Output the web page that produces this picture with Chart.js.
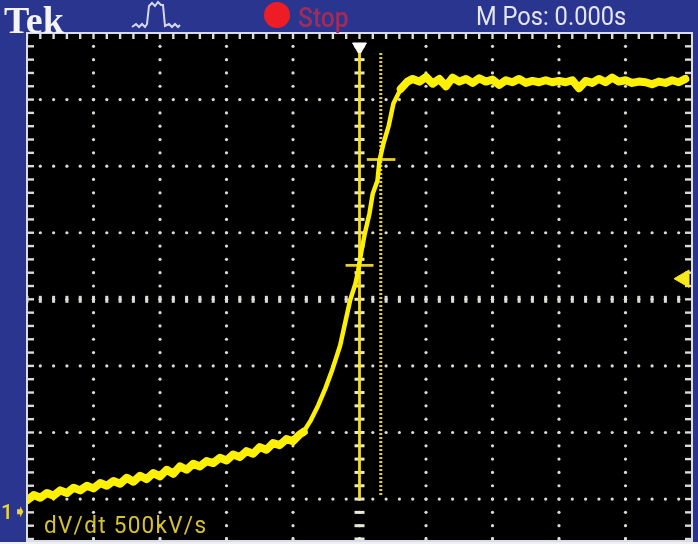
<!DOCTYPE html>
<html>
<head>
<meta charset="utf-8">
<title>Tek scope capture</title>
<script src="https://cdn.jsdelivr.net/npm/chart.js@4"></script>
<style>
	html, body { margin: 0; padding: 0; background: #2a358f; overflow: hidden; }
	#screen { position: relative; width: 698px; height: 544px; overflow: hidden; }
	#scope { position: absolute; left: 0; top: 0; filter: blur(0.5px); }
	.label { position: absolute; white-space: nowrap; line-height: 1; }
	#tek { left: 4px; top: -2px; font: bold 38px "Liberation Serif", serif; color: #f4f4f4; }
	#stop { left: 298px; top: 1px; font: 500 28px Roboto, sans-serif; color: #a02c5a; transform-origin: left top; transform: scaleX(0.88); }
	#stop-dot { position: absolute; left: 264px; top: 2px; width: 26px; height: 26px; border-radius: 50%; background: #ee1c25; }
	#mpos { left: 476px; top: 1px; font: 26px Roboto, sans-serif; color: #e4e6f4; transform-origin: left top; transform: scaleX(0.91); }
	#one { left: 1px; top: 500px; font: 500 21px Roboto, sans-serif; color: #ecd53a; }
	#info { left: 44px; top: 512px; font: 23px Roboto, sans-serif; color: #d6c22c; letter-spacing: 1.3px; transform-origin: left top; transform: scaleX(0.98); }
	#pulse { position: absolute; left: 130px; top: 0; }
</style>
</head>
<body>
<div id="screen">
	<canvas id="scope" width="698" height="544"></canvas>
	<div class="label" id="tek">Tek</div>
	<svg id="pulse" width="52" height="32">
		<polyline points="2,27 6,24 9,27 12,24 15,27 17,24 19,6 22,3 25,6 28,2 31,5 33,5 35,26 39,24 42,27 45,24 48,27 50,25" fill="none" stroke="#d5d8f0" stroke-width="2"/>
	</svg>
	<div id="stop-dot"></div>
	<div class="label" id="stop">Stop</div>
	<div class="label" id="mpos">M Pos: 0.000s</div>
	<div class="label" id="one">1<span style="font-size:17px;vertical-align:2px">➧</span></div>
	<div class="label" id="info">dV/dt 500kV/s</div>
</div>

<script>
// Everything is in scope divisions, 0,0 is the screen centre

const traceX = [
	-5.0, -4.9, -4.8, -4.7, -4.6, -4.5, -4.4, -4.3, -4.2, -4.1, -4.0, -3.9, -3.8, -3.7,
	-3.6, -3.5, -3.4, -3.3, -3.2, -3.1, -3.0, -2.9, -2.8, -2.7, -2.6, -2.5, -2.4, -2.3,
	-2.2, -2.1, -2.0, -1.9, -1.8, -1.7, -1.6, -1.5, -1.4, -1.3, -1.2, -1.1, -1.0, -0.9,
	-0.84, -0.74, -0.62, -0.51, -0.41, -0.29, -0.18, -0.14, -0.06, -0.02, 0.03, 0.08,
	0.15, 0.20, 0.27, 0.30, 0.36, 0.44, 0.51, 0.62, 0.72,
	0.8, 0.9, 1.0, 1.1, 1.2, 1.3, 1.4, 1.5, 1.6, 1.7, 1.8, 1.9, 2.0, 2.1, 2.2, 2.3, 2.4,
	2.5, 2.6, 2.7, 2.8, 2.9, 3.0, 3.1, 3.2, 3.3, 3.4, 3.5, 3.6, 3.7, 3.8, 3.9, 4.0, 4.1,
	4.2, 4.3, 4.4, 4.5, 4.6, 4.7, 4.8, 4.9, 4.98
];
const traceY = [
	-3.02, -2.94, -2.98, -2.91, -2.95, -2.87, -2.91, -2.83, -2.87, -2.80, -2.84, -2.76, -2.80, -2.73,
	-2.77, -2.68, -2.74, -2.65, -2.70, -2.61, -2.66, -2.56, -2.62, -2.51, -2.56, -2.47, -2.51, -2.43,
	-2.46, -2.38, -2.42, -2.33, -2.37, -2.28, -2.32, -2.22, -2.26, -2.16, -2.19, -2.10, -2.13, -2.03,
	-1.99, -1.83, -1.59, -1.33, -1.06, -0.69, -0.19, -0.01, 0.24, 0.43, 0.73, 0.99,
	1.29, 1.59, 1.78, 2.08, 2.34, 2.61, 2.94, 3.16, 3.27,
	3.31, 3.27, 3.34, 3.24, 3.31, 3.20, 3.33, 3.27, 3.31, 3.25, 3.32, 3.27, 3.30, 3.22, 3.29, 3.26,
	3.31, 3.25, 3.28, 3.26, 3.29, 3.26, 3.28, 3.26, 3.29, 3.17, 3.28, 3.25, 3.31, 3.26, 3.33, 3.27,
	3.29, 3.25, 3.27, 3.26, 3.23, 3.27, 3.25, 3.29, 3.26, 3.31
];

const gridX = [-4, -3, -2, -1, 0, 1, 2, 3, 4];
const gridY = [3, 2, 1, 0, -1, -2, -3];
const edgeX = [-5, -4, -3, -2, -1, 0, 1, 2, 3, 4];
const edgeY = [3, 2, 1, 0, -1, -2, -3, -4];
const minorSteps = [0, 0.2, 0.4, 0.6, 0.8];

const scaleMinX = -5, scaleMaxX = 5;
const scaleMinY = -3.63, scaleMaxY = 4;

const cursorSolidX = [0, 0];
const cursorDottedX = [0.32, 0.32];
const cursorSpanY = [3.7, -3.0];
const cursorDottedSpanY = [3.7, -2.97];
const lowTickX = [-0.21, 0.21];
const lowTickY = [0.51, 0.51];
const highTickX = [0.11, 0.54];
const highTickY = [2.1, 2.1];

const YELLOW = '#fdf000';
const DOT = '#dcdcd4';

// Dots along the division lines, 5 per division
const minorX = edgeX.flatMap(x => minorSteps.map(s => x + s));
const minorY = edgeY.flatMap(y => minorSteps.map(s => y + s)).filter(y => y <= scaleMaxY);

function points(xs, ys) {
	return xs.flatMap(x => ys.map(y => ({ x: x, y: y })));
}

function pairs(xs, ys) {
	return xs.map((x, i) => ({ x: x, y: ys[i] }));
}

function marks(data, style, radius, rotation, width, color) {
	return {
		data: data,
		showLine: false,
		pointStyle: style,
		pointRadius: radius,
		pointRotation: rotation,
		borderWidth: width,
		borderColor: color,
		backgroundColor: color,
		pointHoverRadius: radius
	};
}

const screenBack = {
	id: 'screenBack',
	beforeDatasetsDraw(chart) {
		const { ctx, chartArea: a } = chart;
		ctx.save();
		ctx.fillStyle = '#000';
		ctx.fillRect(a.left, a.top, a.width, a.height);
		ctx.restore();
	},
	afterDatasetsDraw(chart) {
		const { ctx, chartArea: a } = chart;
		ctx.save();
		ctx.strokeStyle = '#d9dbee';
		ctx.lineWidth = 2;
		ctx.strokeRect(a.left, a.top, a.width, a.height);
		ctx.fillStyle = '#f0f0ec';
		ctx.fillRect(0, a.bottom + 1, chart.width, chart.height - a.bottom);
		ctx.restore();
	}
};

new Chart(document.getElementById('scope'), {
	type: 'scatter',
	data: {
		datasets: [
			// trace on top, thinner where it rises fast
			{
				data: pairs(traceX, traceY),
				showLine: true,
				borderColor: YELLOW,
				borderWidth: 8,
				borderJoinStyle: 'round',
				borderCapStyle: 'round',
				pointRadius: 0,
				tension: 0,
				segment: {
					borderWidth: c => (c.p0.parsed.x > -0.85 && c.p0.parsed.x < 0.6 ? 4.5 : 8)
				}
			},
			{ data: pairs(cursorSolidX, cursorSpanY), showLine: true, borderColor: '#f2dc22', borderWidth: 2.8, pointRadius: 0 },
			{ data: pairs(cursorDottedX, cursorDottedSpanY), showLine: true, borderColor: '#e6d21e', borderWidth: 3, borderDash: [2, 2], pointRadius: 0 },
			{ data: pairs(lowTickX, lowTickY), showLine: true, borderColor: '#e8cf2a', borderWidth: 2.8, pointRadius: 0 },
			{ data: pairs(highTickX, highTickY), showLine: true, borderColor: '#e8cf2a', borderWidth: 2.8, pointRadius: 0 },
			marks([{ x: 0, y: 3.79 }], 'triangle', 8, 180, 1, '#ffffff'),
			marks([{ x: 4.88, y: 0.31 }], 'triangle', 10, -90, 1, '#f8e81c'),
			// centre cross, the ticks are longer there
			marks(points([0], minorY), 'line', 5, 0, 3, '#e8e8d8'),
			marks(points(minorX, [0]), 'line', 3.5, 90, 3, DOT),
			// dotted graticule
			marks(points(gridX, minorY), 'circle', 1.6, 0, 0, DOT),
			marks(points(minorX, gridY), 'circle', 1.6, 0, 0, DOT),
			// ticks on the frame
			marks(points(minorX, [scaleMaxY]), 'line', 6, 90, 2.4, DOT),
			marks(points([scaleMinX], minorY), 'line', 7, 0, 2.4, DOT),
			marks(points([scaleMaxX], minorY), 'line', 7, 0, 2.4, DOT),
			marks(points(gridX, [scaleMinY]), 'line', 4, 90, 2.4, DOT)
		]
	},
	options: {
		responsive: false,
		animation: false,
		events: [],
		layout: { autoPadding: false, padding: { left: 27, top: 33, right: 6, bottom: 3 } },
		plugins: { legend: { display: false }, tooltip: { enabled: false } },
		scales: {
			x: { type: 'linear', display: false, min: scaleMinX, max: scaleMaxX },
			y: { type: 'linear', display: false, min: scaleMinY, max: scaleMaxY }
		}
	},
	plugins: [screenBack]
});
</script>
</body>
</html>
